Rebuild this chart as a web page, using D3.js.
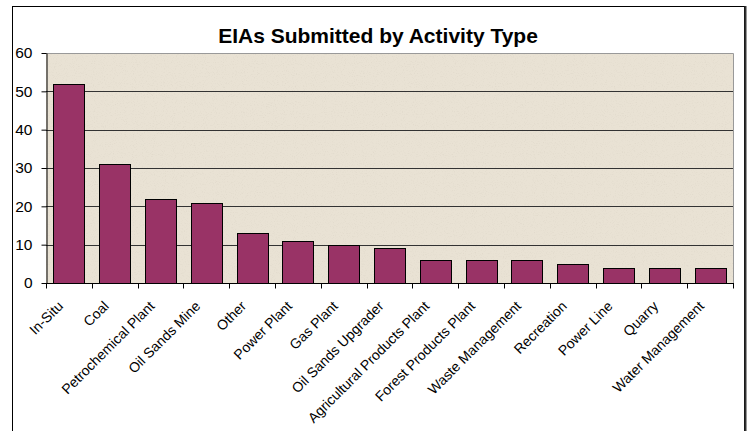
<!DOCTYPE html>
<html><head><meta charset="utf-8">
<script src="https://cdn.jsdelivr.net/npm/d3@7"></script>
<style>body{margin:0;background:#fff}svg{display:block}</style>
</head><body><svg id="c" width="752" height="431"></svg>
<script>
const categories = ["In-Situ","Coal","Petrochemical Plant","Oil Sands Mine","Other","Power Plant","Gas Plant","Oil Sands Upgrader","Agricultural Products Plant","Forest Products Plant","Waste Management","Recreation","Power Line","Quarry","Water Management"];
const values = [52,31,22,21,13,11,10,9,6,6,6,5,4,4,4];
const yTicks = [0,10,20,30,40,50,60];
const title = "EIAs Submitted by Activity Type";

const FONT = "'Liberation Sans', Arial, sans-serif";
const svg = d3.select("#c");
const m = {left:46, right:733, top:53, bottom:283};

// outer frame
svg.append("rect").attr("x",12.5).attr("y",6.5).attr("width",732).attr("height",440)
  .attr("fill","#fff").attr("stroke","#000").attr("stroke-width",1);
svg.append("line").attr("x1",745.5).attr("x2",745.5).attr("y1",6).attr("y2",431).attr("stroke","#333").attr("stroke-width",2);

const defs = svg.append("defs");
const f = defs.append("filter").attr("id","tex").attr("x",0).attr("y",0).attr("width","100%").attr("height","100%");
f.append("feTurbulence").attr("type","fractalNoise").attr("baseFrequency",0.9).attr("numOctaves",2).attr("seed",3).attr("result","n");
f.append("feColorMatrix").attr("in","n").attr("type","matrix")
  .attr("values","0 0 0 0 0.55  0 0 0 0 0.5  0 0 0 0 0.42  0 0 0 -1.6 0.75").attr("result","n2");
f.append("feComposite").attr("in","n2").attr("in2","SourceGraphic").attr("operator","in");

const x = d3.scaleBand().domain(categories).range([m.left,m.right]).paddingInner(0.32).paddingOuter(0.16);
const xb = d3.scaleLinear().domain([0,categories.length]).range([m.left,m.right]);
const y = d3.scaleLinear().domain([0,60]).range([m.bottom,m.top]);

// plot background
svg.append("rect").attr("x",m.left).attr("y",m.top).attr("width",m.right-m.left).attr("height",m.bottom-m.top).attr("fill","#e9e2d4");
svg.append("rect").attr("x",m.left).attr("y",m.top).attr("width",m.right-m.left).attr("height",m.bottom-m.top).attr("fill","#e9e2d4").attr("filter","url(#tex)").attr("opacity",0.35);
svg.append("path").attr("d",`M${m.left},${m.top+0.5}H${m.right+0.5}V${m.bottom}`).attr("fill","none").attr("stroke","#999").attr("stroke-width",1);

// gridlines
svg.append("g").selectAll("line").data(yTicks.filter(d=>d>0&&d<60)).join("line")
  .attr("x1",m.left).attr("x2",m.right).attr("y1",d=>Math.round(y(d))+0.5).attr("y2",d=>Math.round(y(d))+0.5)
  .attr("stroke","#333").attr("stroke-width",1);

// bars
svg.append("g").selectAll("rect").data(values).join("rect")
  .attr("x",(d,i)=>Math.round(x(categories[i]))+0.5).attr("width",Math.round(x.bandwidth()))
  .attr("y",d=>Math.round(y(d))+0.5).attr("height",d=>Math.round(y(0))-Math.round(y(d)))
  .attr("fill","#993366").attr("stroke","#000").attr("stroke-width",1);

// y axis
const ya = svg.append("g").attr("transform",`translate(${m.left+0.5},0)`)
  .call(d3.axisLeft(y).tickValues(yTicks).tickSize(5).tickPadding(9).tickSizeOuter(0));
ya.select(".domain").attr("stroke","#000");
ya.selectAll(".tick line").attr("stroke","#000");
ya.selectAll("text").attr("font-family",FONT).attr("font-size",15.5).attr("fill","#000");

// x axis
const xa = svg.append("g").attr("transform",`translate(0,${m.bottom+0.5})`);
xa.append("line").attr("x1",m.left).attr("x2",m.right+1).attr("stroke","#000");
xa.selectAll("line.t").data(d3.range(categories.length+1)).join("line").attr("class","t")
  .attr("x1",d=>Math.round(xb(d))+0.5).attr("x2",d=>Math.round(xb(d))+0.5).attr("y1",0).attr("y2",5).attr("stroke","#000");
xa.selectAll("text").data(categories).join("text")
  .attr("transform",d=>`translate(${x(d)+x.bandwidth()/2-5},23.5) rotate(-45)`)
  .attr("text-anchor","end")
  .attr("font-family",FONT).attr("font-size",14).attr("fill","#000")
  .text(d=>d);

// title
svg.append("text").attr("x",378).attr("y",43).attr("text-anchor","middle")
  .attr("font-family",FONT).attr("font-weight","bold").attr("font-size",21)
  .text(title);
</script></body></html>
